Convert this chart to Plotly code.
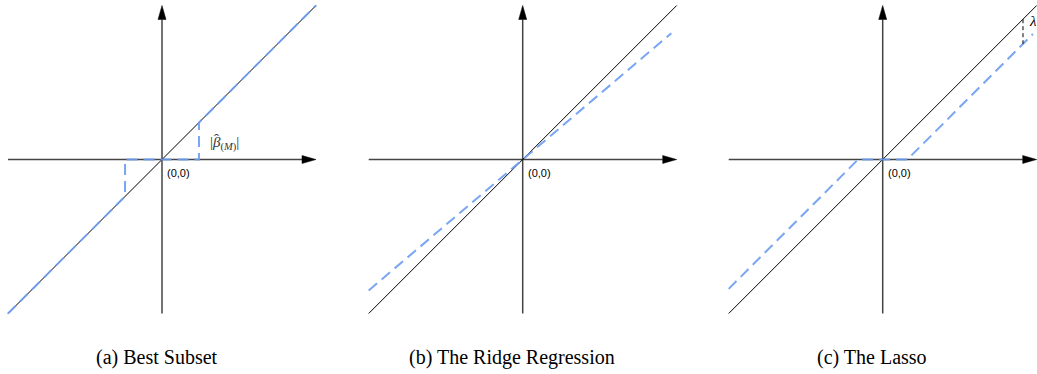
import plotly.graph_objects as go

# Three threshold estimators compared with the least-squares line y = x
W, H = 1037, 374
S = 154.0            # pixels per unit on every panel
CY = 159.5           # pixel row of the origin
centers = [162.0, 522.7, 882.7]
bounds = [0.0, 342.0, 702.0, 1037.0]
title_x = [157.0, 512.0, 872.0]

panel_titles = ["(a) Best Subset", "(b) The Ridge Regression", "(c) The Lasso"]

# identity (least-squares) line
ls_x = [-1.0, 1.0]
ls_y = [-1.0, 1.0]

# (a) hard thresholding at |beta_(M)|
beta_m = 0.24
subset_x = [-1.0, -beta_m, -beta_m, beta_m, beta_m, 1.0]
subset_y = [-1.0, -beta_m, 0.0, 0.0, beta_m, 1.0]

# (b) proportional shrinkage
ridge_x = [-1.0, 0.965]
ridge_y = [-0.85, 0.82]

# (c) soft thresholding by lambda
lam = 0.16
lasso_x = [-1.0, -lam, lam, 0.975]
lasso_y = [-0.84, 0.0, 0.0, 0.815]
lam_at = 0.911

estimates = [(subset_x, subset_y), (ridge_x, ridge_y), (lasso_x, lasso_y)]

AXIS_COL = "#444444"
BLUE = "#6b9cf2"
SERIF = "Liberation Serif"

fig = go.Figure()
layout = dict(width=W, height=H, margin=dict(l=0, r=0, t=0, b=0),
              paper_bgcolor="white", plot_bgcolor="white", showlegend=False)

ylo = -(H - CY) / S
yhi = CY / S
annotations = []

for i in range(3):
    n = "" if i == 0 else str(i + 1)
    xa, ya = "x" + n, "y" + n
    c = centers[i]
    xr = [-(c - bounds[i]) / S, (bounds[i + 1] - c) / S]
    layout["xaxis" + n] = dict(domain=[bounds[i] / W, bounds[i + 1] / W], range=xr,
                               visible=False, fixedrange=True)
    layout["yaxis" + n] = dict(domain=[0, 1], range=[ylo, yhi], visible=False,
                               fixedrange=True)

    # coordinate axes with filled arrowheads
    head_len, head_half = 14 / S, 4 / S
    fig.add_trace(go.Scatter(x=[-1, 1 - head_len], y=[0, 0], mode="lines",
                             line=dict(color=AXIS_COL, width=1.5),
                             xaxis=xa, yaxis=ya, cliponaxis=False, hoverinfo="skip"))
    fig.add_trace(go.Scatter(x=[0, 0], y=[-1, 1 - head_len], mode="lines",
                             line=dict(color=AXIS_COL, width=1.5),
                             xaxis=xa, yaxis=ya, cliponaxis=False, hoverinfo="skip"))
    fig.add_trace(go.Scatter(x=[1 - head_len, 1, 1 - head_len, 1 - head_len],
                             y=[head_half, 0, -head_half, head_half],
                             mode="lines", fill="toself", fillcolor="black",
                             line=dict(color="black", width=0.5),
                             xaxis=xa, yaxis=ya, cliponaxis=False, hoverinfo="skip"))
    fig.add_trace(go.Scatter(y=[1 - head_len, 1, 1 - head_len, 1 - head_len],
                             x=[head_half, 0, -head_half, head_half],
                             mode="lines", fill="toself", fillcolor="black",
                             line=dict(color="black", width=0.5),
                             xaxis=xa, yaxis=ya, cliponaxis=False, hoverinfo="skip"))

    # least-squares line
    fig.add_trace(go.Scatter(x=ls_x, y=ls_y, mode="lines",
                             line=dict(color="black", width=1),
                             xaxis=xa, yaxis=ya, cliponaxis=False, hoverinfo="skip"))

    # estimator
    ex, ey = estimates[i]
    fig.add_trace(go.Scatter(x=ex, y=ey, mode="lines",
                             line=dict(color=BLUE, width=2, dash="11px,6px"),
                             opacity=0.9,
                             xaxis=xa, yaxis=ya, cliponaxis=False, hoverinfo="skip"))

    annotations.append(dict(x=0.02, y=-0.085, xref=xa, yref=ya, text="(0,0)",
                            showarrow=False, xanchor="left", yanchor="middle",
                            font=dict(family="Liberation Sans", size=11, color="black")))
    annotations.append(dict(x=title_x[i] / W, y=1 - 357 / H, xref="paper", yref="paper",
                            text=panel_titles[i], showarrow=False,
                            xanchor="center", yanchor="middle",
                            font=dict(family=SERIF, size=20, color="black")))

# label for the best-subset threshold: |beta-hat_(M)|
annotations.append(dict(x=0.3, y=0.105, xref="x", yref="y",
                        text="|<i>β</i><sub>(<i>M</i>)</sub>|", showarrow=False,
                        xanchor="left", yanchor="middle",
                        font=dict(family=SERIF, size=15, color="#333333")))
annotations.append(dict(x=0.352, y=0.135, xref="x", yref="y",
                        text="ˆ", showarrow=False,
                        xanchor="center", yanchor="middle",
                        font=dict(family=SERIF, size=15, color="#333333")))

# lambda gap on the lasso panel
fig.add_trace(go.Scatter(x=[lam_at, lam_at], y=[lam_at, lam_at - lam], mode="lines",
                         line=dict(color="black", width=1, dash="4px,3px"),
                         xaxis="x3", yaxis="y3", cliponaxis=False, hoverinfo="skip"))
annotations.append(dict(x=lam_at + 0.025, y=lam_at - 0.01, xref="x3", yref="y3",
                        text="<i>λ</i>", showarrow=False, xanchor="left",
                        yanchor="middle",
                        font=dict(family=SERIF, size=15, color="black")))

layout["annotations"] = annotations
fig.update_layout(**layout)
fig.write_html("out.html")
